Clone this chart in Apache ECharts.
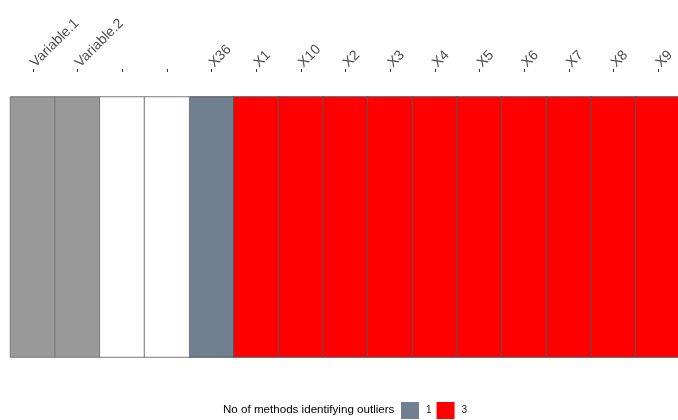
<!DOCTYPE html>
<html>
<head>
<meta charset="utf-8">
<script src="https://cdn.jsdelivr.net/npm/echarts@6/dist/echarts.min.js"></script>
<style>
  html, body { margin: 0; padding: 0; background: #fff; }
  #chart { width: 678px; height: 420px; }
</style>
</head>
<body>
<div id="chart"></div>
<script>
// Column labels along the top (two unlabeled spacer columns)
const columns = ['Variable.1', 'Variable.2', ' ', '  ', 'X36', 'X1', 'X10', 'X2', 'X3', 'X4', 'X5', 'X6', 'X7', 'X8', 'X9'];
// Cell kind per column: 'var' = variable header cell, 'gap' = empty spacer, number = count of methods
const cellKinds = ['var', 'var', 'gap', 'gap', 1, 3, 3, 3, 3, 3, 3, 3, 3, 3, 3];
// Legend entries
const legendValues = [1, 3];
const legendColors = ['#708090', '#ff0000'];
const legendTitle = 'No of methods identifying outliers';

const kindColors = { 'var': '#999999', 'gap': '#ffffff' };

const countCells = [];
const otherCells = [];
cellKinds.forEach((k, i) => {
  if (typeof k === 'number') {
    countCells.push([i, 0, k]);
  } else {
    otherCells.push({ value: [i, 0, 0], itemStyle: { color: kindColors[k] } });
  }
});

const chart = echarts.init(document.getElementById('chart'), null, { renderer: 'canvas' });
chart.setOption({
  animation: false,
  backgroundColor: '#ffffff',
  grid: { left: 10.5, top: 97, width: 670, height: 260, outerBoundsMode: 'none', containLabel: false },
  xAxis: {
    type: 'category',
    position: 'top',
    offset: 25,
    data: columns,
    axisLine: { show: false },
    axisTick: { show: true, alignWithLabel: true, length: 3, lineStyle: { color: '#333333', width: 1 } },
    axisLabel: {
      rotate: -45,
      interval: 0,
      margin: 7,
      hideOverlap: false,
      color: '#4d4d4d',
      fontFamily: 'Liberation Sans, Arial, sans-serif',
      fontSize: 14
    },
    splitLine: { show: false }
  },
  yAxis: {
    type: 'category',
    data: [''],
    show: false
  },
  visualMap: {
    type: 'piecewise',
    seriesIndex: 0,
    orient: 'horizontal',
    left: 401,
    bottom: 1,
    padding: 0,
    itemWidth: 18,
    itemHeight: 17,
    itemGap: 5,
    itemSymbol: 'rect',
    textGap: 7,
    selectedMode: false,
    textStyle: { color: '#1a1a1a', fontSize: 10, fontFamily: 'Liberation Sans, Arial, sans-serif' },
    pieces: legendValues.map((v, i) => ({ value: v, label: String(v), color: legendColors[i] }))
  },
  graphic: [{
    type: 'text',
    left: 223,
    top: 404,
    style: {
      text: legendTitle,
      fill: '#000000',
      fontSize: 11.6,
      fontFamily: 'Liberation Sans, Arial, sans-serif'
    }
  }],
  series: [
    {
      type: 'heatmap',
      data: countCells,
      itemStyle: { borderColor: '#555555', borderWidth: 1 },
      emphasis: { disabled: true }
    },
    {
      type: 'heatmap',
      data: otherCells,
      itemStyle: { borderColor: '#777777', borderWidth: 1 },
      emphasis: { disabled: true }
    }
  ]
});
</script>
</body>
</html>
